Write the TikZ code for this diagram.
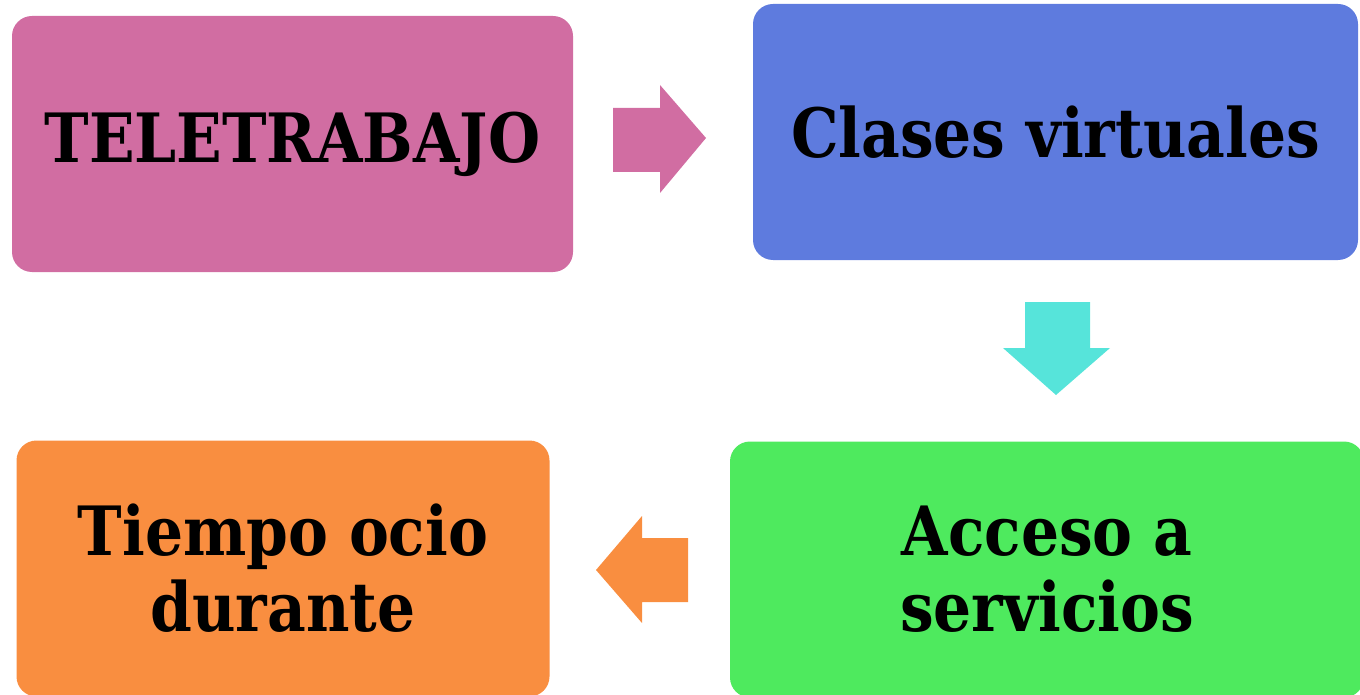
\documentclass[tikz,border=0pt]{standalone}
\usepackage{fontspec}
\setmainfont{DejaVu Serif}[FakeStretch=0.88]
\usetikzlibrary{positioning}
\definecolor{cRosa}{HTML}{D16DA2}
\definecolor{cAzul}{HTML}{5E7BDE}
\definecolor{cCian}{HTML}{56E4DA}
\definecolor{cVerde}{HTML}{4EEA5E}
\definecolor{cNaranja}{HTML}{F98E40}

\begin{document}
\begin{tikzpicture}[x=1pt, y=-1pt,
    every node/.style = {rounded corners=20pt, align=center, inner sep=0pt,
                         font=\fontsize{68}{76}\selectfont\bfseries},
    caja/.style = {fill=#1, minimum height=256pt},
                    ]
    \useasboundingbox (0,0) rectangle (1360,695);
    \node[caja=cRosa, minimum width=561pt] (ntele) at (292.5,144) {TELETRABAJO};
    \node[caja=cAzul, minimum width=605pt] (nclases) at (1055.5,132) {Clases virtuales};
    \node[caja=cVerde, minimum width=634pt] (nacceso) at (1047,569.5) {Acceso a\\servicios};
    \node[caja=cNaranja, minimum width=533pt] (ntiempo) at (283,568.5) {Tiempo ocio\\durante};
    %
    % flechas de bloque
    \fill[cRosa] (613,108) -- (660,108) -- (660,85) -- (706,138)
                 -- (660,193) -- (660,172) -- (613,172) -- cycle;
    \fill[cCian] (1025,302) -- (1090,302) -- (1090,348) -- (1110,348)
                 -- (1056,395) -- (1003,348) -- (1025,348) -- cycle;
    \fill[cNaranja] (688,538) -- (642,538) -- (642,516) -- (596,570)
                 -- (642,623) -- (642,602) -- (688,602) -- cycle;
\end{tikzpicture}
\end{document}
